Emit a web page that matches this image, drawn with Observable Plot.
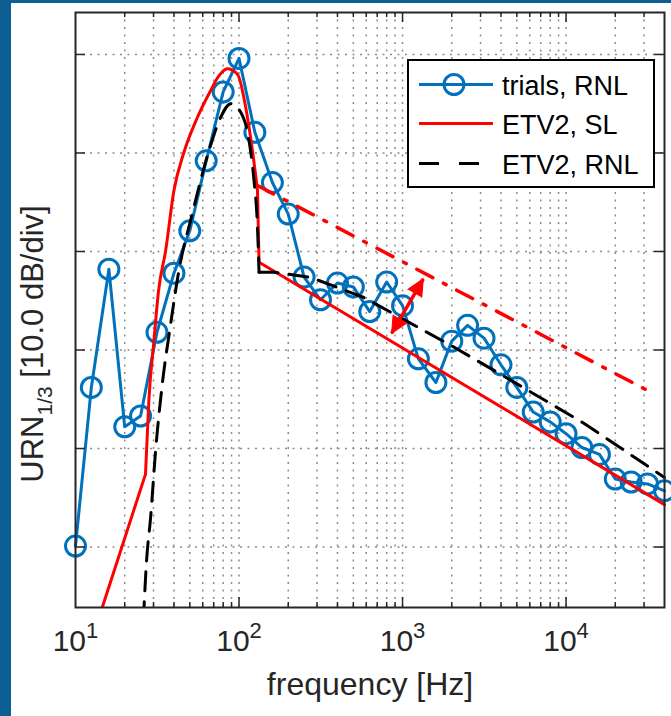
<!DOCTYPE html>
<html><head><meta charset="utf-8">
<script src="https://cdn.jsdelivr.net/npm/d3@7"></script>
<script src="https://cdn.jsdelivr.net/npm/@observablehq/plot@0.6"></script>
<style>
body{margin:0;background:#fff;}
#wrap{position:relative;width:671px;height:716px;overflow:hidden;background:#fff;}
.strip{position:absolute;background:#0d5f93;}
svg text{font-family:"Liberation Sans",Arial,Helvetica,sans-serif;}
</style></head><body>
<div id="wrap"></div>
<script>
// ---- data ----
const freqs = [10,12.5,16,20,25,31.5,40,50,63,80,100,125,160,200,250,315,400,500,630,800,1000,1250,1600,2000,2500,3150,4000,5000,6300,8000,10000,12500,16000,20000,25000,31500,40000];
const trialsRNL = [70.1,86.2,98.2,82.2,83.3,91.8,97.8,102.1,109.2,116.2,119.6,112.1,107.0,103.8,97.4,95.1,96.8,96.4,93.9,96.9,94.5,89.1,86.7,90.9,92.5,91.2,88.5,86.2,83.7,82.7,81.5,80.1,79.4,76.9,76.6,76.4,75.7];

// ETV2 source level: low-frequency straight part, hump, high-frequency straight part
const slLowFreq   = [12.25,26.8];
const slLowLevel  = [60.0,77.4];
const slHumpFreq  = [26.8,28.1,30.2,32.2,35.6,40.0,45.9,55.6,67.1,75.1,84.9,97.8,109.9,120.8,129.7];
const slHumpLevel = [77.4,84.9,91.0,96.0,100.1,106.2,110.0,113.6,116.35,117.8,118.55,118.0,114.65,110.25,106.2];
const slHighFreq  = [129.7,132.6,40000];
const slHighLevel = [106.2,98.9,74.3];

// ETV2 radiated noise level
const rnlHumpFreq  = [26.0,27.2,28.8,30.9,33.96,38.2,42.9,51.8,65.5,77.3,88.9,102.4,115.1,123.5,129.7,132.6];
const rnlHumpLevel = [62.5,68.6,73.0,79.8,86.57,92.66,98.07,103.83,110.25,113.63,115.0,114.14,111.27,107.2,102.47,97.9];
const rnlHighFreq  = [132.6,163.1,274.8,580,1979,4005,12904,40000];
const rnlHighLevel = [97.9,97.9,97.36,95.33,90.46,87.51,82.54,77.06];

const trendFreq  = [129.7,34150];
const trendLevel = [106.7,85.58];

const arrowFreq  = [857,1340];
const arrowLevel = [91.68,97.23];

const yTicks = [70,80,90,100,110,120];
const xMajorTicks = [10,100,1000,10000];
const xMajorInner = [100,1000,10000];
const xMinorTicks = [20,30,40,50,60,70,80,90,200,300,400,500,600,700,800,900,2000,3000,4000,5000,6000,7000,8000,9000,20000,30000];

const legendLabels = ["trials, RNL","ETV2, SL","ETV2, RNL"];
const xLabel = "frequency [Hz]";

// ---- tables ----
const tbl = (fs, vs) => fs.map((f,i)=>({f, v: vs[i]}));
const trials = tbl(freqs, trialsRNL);
const slLow = tbl(slLowFreq, slLowLevel), slHump = tbl(slHumpFreq, slHumpLevel), slHigh = tbl(slHighFreq, slHighLevel);
const rnlHump = tbl(rnlHumpFreq, rnlHumpLevel), rnlHigh = tbl(rnlHighFreq, rnlHighLevel);
const trend = tbl(trendFreq, trendLevel);
const arrowSeg = [{f1: arrowFreq[0], v1: arrowLevel[0], f2: arrowFreq[1], v2: arrowLevel[1]}];
const arrowHeads = [{f: arrowFreq[1], v: arrowLevel[1], rot: 30},{f: arrowFreq[0], v: arrowLevel[0], rot: 210}];

const W = 671, H = 716, mL = 75, mR = 7, mT = 12, mB = 109;
const fh = H - mT - mB, fw = W - mL - mR;
const blue = "#0072BD", red = "#FF0000", ink = "#262626", gridC = "#8c8c8c";
const xGrid = [...xMajorInner, ...xMinorTicks];
const dashK = "19,11";

const plot = Plot.plot({
  width: W, height: H,
  marginLeft: mL, marginRight: mR, marginTop: mT, marginBottom: mB,
  x: {type: "log", domain: [10, 40000], axis: null},
  y: {domain: [63.86, 124.26], axis: null},
  style: {background: "white", fontFamily: "'Liberation Sans', Arial, sans-serif", overflow: "visible"},
  marks: [
    Plot.ruleX(xGrid, {x: d=>d, stroke: gridC, strokeWidth: 1.5, strokeDasharray: "2,5.5"}),
    Plot.ruleY(yTicks, {y: d=>d, stroke: gridC, strokeWidth: 1.5, strokeDasharray: "2,5.5"}),
    Plot.line(trials, {x: "f", y: "v", stroke: blue, strokeWidth: 3}),
    Plot.dot(trials, {x: "f", y: "v", r: 10, stroke: blue, strokeWidth: 3, fill: "none"}),
    Plot.line(slLow, {x: "f", y: "v", stroke: red, strokeWidth: 3, clip: true}),
    Plot.line(slHump, {x: "f", y: "v", stroke: red, strokeWidth: 3, curve: "monotone-x"}),
    Plot.line(slHigh, {x: "f", y: "v", stroke: red, strokeWidth: 3}),
    Plot.line(rnlHump, {x: "f", y: "v", stroke: "#000", strokeWidth: 3, strokeDasharray: dashK, curve: "monotone-x", clip: true}),
    Plot.line(rnlHigh, {x: "f", y: "v", stroke: "#000", strokeWidth: 3, strokeDasharray: dashK}),
    Plot.line(trend, {x: "f", y: "v", stroke: red, strokeWidth: 3.5, strokeDasharray: "18,12,3,12"}),
    Plot.link(arrowSeg, {x1: "f1", y1: "v1", x2: "f2", y2: "v2", stroke: red, strokeWidth: 3.5}),
    Plot.vector(arrowHeads, {x: "f", y: "v", rotate: "rot", length: 17, r: 8, shape: "spike", anchor: "end", fill: red, stroke: red, strokeWidth: 1}),
    Plot.frame({stroke: ink, strokeWidth: 2}),
    // inward ticks
    Plot.ruleX(xMajorInner, {x: d=>d, stroke: ink, strokeWidth: 1.5, insetTop: fh - 10}),
    Plot.ruleX(xMajorInner, {x: d=>d, stroke: ink, strokeWidth: 1.5, insetBottom: fh - 10}),
    Plot.ruleX(xMinorTicks, {x: d=>d, stroke: ink, strokeWidth: 1.5, insetTop: fh - 5}),
    Plot.ruleX(xMinorTicks, {x: d=>d, stroke: ink, strokeWidth: 1.5, insetBottom: fh - 5}),
    Plot.ruleY(yTicks, {y: d=>d, stroke: ink, strokeWidth: 1.5, insetRight: fw - 10}),
    Plot.ruleY(yTicks, {y: d=>d, stroke: ink, strokeWidth: 1.5, insetLeft: fw - 10}),
    // tick labels and axis label
    Plot.text(xMajorTicks, {x: d=>d, text: d=>"10^" + Math.round(Math.log10(d)), frameAnchor: "bottom", dy: 43.4, fontSize: 30, fill: ink}),
    Plot.text([xLabel], {text: d=>d, frameAnchor: "bottom", dy: 87.5, fontSize: 32, fill: ink})
  ]
});

const svg = d3.select(plot);
// superscripts for tick labels
svg.selectAll("text").each(function(){
  const t = d3.select(this);
  const s = t.text();
  if (s.indexOf("^") < 0) return;
  const parts = s.split("^");
  t.selectAll("*").remove();
  t.text(parts[0]);
  t.append("tspan").attr("font-size", 22).attr("dy", -13).text(parts[1]);
});

// y label with subscript
const yl = svg.append("text")
  .attr("transform", "translate(43,344) rotate(-90)")
  .attr("text-anchor", "middle").attr("font-size", 31).attr("fill", ink);
yl.append("tspan").text("URN");
yl.append("tspan").attr("font-size", 21).attr("dy", 9).text("1/3");
yl.append("tspan").attr("dy", -9).text("\u00a0[10.0 dB/div]");

// legend
const lg = svg.append("g");
lg.append("rect").attr("x", 408).attr("y", 60).attr("width", 246).attr("height", 127)
  .attr("fill", "#fff").attr("stroke", "#000").attr("stroke-width", 2);
const rows = [
  {y: 84.5, stroke: blue, dash: null, marker: true},
  {y: 123.5, stroke: red, dash: null, marker: false},
  {y: 163.5, stroke: "#000", dash: "20,20", marker: false}
];
rows.forEach((r, i) => {
  lg.append("line").attr("x1", 419).attr("x2", 493).attr("y1", r.y).attr("y2", r.y)
    .attr("stroke", r.stroke).attr("stroke-width", 3).attr("stroke-dasharray", r.dash);
  if (r.marker) lg.append("circle").attr("cx", 454).attr("cy", r.y).attr("r", 10)
    .attr("fill", "none").attr("stroke", blue).attr("stroke-width", 3);
  lg.append("text").attr("x", 502).attr("y", r.y + 10.5).attr("font-size", 27).attr("fill", "#000")
    .attr("text-anchor", "start").text(legendLabels[i]);
});

const wrap = document.getElementById("wrap");
wrap.appendChild(plot);
const s1 = document.createElement("div"); s1.className = "strip";
s1.style.cssText = "left:0;top:0;width:11px;height:716px;";
const s2 = document.createElement("div"); s2.className = "strip";
s2.style.cssText = "left:0;top:0;width:671px;height:3px;";
wrap.appendChild(s1); wrap.appendChild(s2);
</script>
</body></html>
